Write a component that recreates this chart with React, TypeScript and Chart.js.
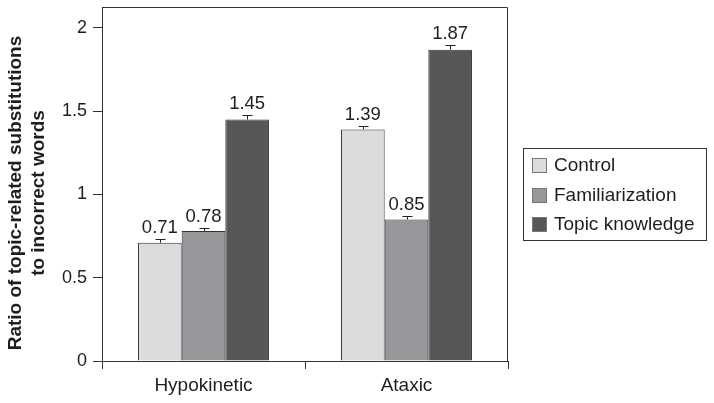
import React, { useEffect, useRef } from "react";
import { Chart, registerables } from "chart.js";

Chart.register(...registerables);

const categories = ["Hypokinetic", "Ataxic"];
const seriesNames = ["Control", "Familiarization", "Topic knowledge"];
const controlValues = [0.71, 1.39];
const familiarizationValues = [0.78, 0.85];
const topicValues = [1.45, 1.87];
const controlErrors = [0.022, 0.021];
const familiarizationErrors = [0.02, 0.018];
const topicErrors = [0.026, 0.026];
const yTicks = [0, 0.5, 1, 1.5, 2];
const yTitleLines = ["Ratio of topic-related substitutions", "to incorrect words"];
const valueLabels = [
  ["0.71", "1.39"],
  ["0.78", "0.85"],
  ["1.45", "1.87"],
];

const colors = ["#dadcde", "#96979a", "#575759"];
const FONT = "'Liberation Sans', Arial, Helvetica, sans-serif";
const TEXT = "#1e1e1e";
const LINE = "#333333";

const errorsAll = [controlErrors, familiarizationErrors, topicErrors];

const extrasPlugin = {
  id: "extras",
  afterDatasetsDraw(chart: any) {
    const ctx = chart.ctx;
    const yScale = chart.scales.y;
    ctx.save();
    chart.data.datasets.forEach((ds: any, di: number) => {
      const meta = chart.getDatasetMeta(di);
      meta.data.forEach((el: any, i: number) => {
        const v = ds.data[i];
        const e = errorsAll[di][i];
        const x = Math.round(el.x) + 0.5;
        const top = Math.round(yScale.getPixelForValue(v + e)) + 0.5;
        ctx.strokeStyle = "#222";
        ctx.lineWidth = 1;
        ctx.beginPath();
        ctx.moveTo(x, el.y);
        ctx.lineTo(x, top);
        ctx.moveTo(x - 5, top);
        ctx.lineTo(x + 5, top);
        ctx.stroke();
        ctx.fillStyle = TEXT;
        ctx.font = `18.5px ${FONT}`;
        ctx.textAlign = "center";
        ctx.textBaseline = "alphabetic";
        ctx.fillText(valueLabels[di][i], el.x, top - 7);
      });
    });
    ctx.restore();
  },
  afterDraw(chart: any) {
    const ctx = chart.ctx;
    const a = chart.chartArea;
    ctx.save();
    ctx.strokeStyle = LINE;
    ctx.lineWidth = 1;
    ctx.beginPath();
    ctx.moveTo(Math.round(a.left) + 0.5, Math.round(a.top) + 0.5);
    ctx.lineTo(Math.round(a.right) - 0.5, Math.round(a.top) + 0.5);
    ctx.lineTo(Math.round(a.right) - 0.5, Math.round(a.bottom));
    ctx.stroke();

    // y axis title
    ctx.save();
    ctx.translate(0, 193);
    ctx.rotate(-Math.PI / 2);
    ctx.fillStyle = TEXT;
    ctx.font = `bold 19px ${FONT}`;
    ctx.textAlign = "center";
    ctx.textBaseline = "middle";
    ctx.fillText(yTitleLines[0], 0, 16);
    ctx.fillText(yTitleLines[1], 0, 39);
    ctx.restore();

    // legend
    const lx = 523.5, ly = 148.5, lw = 183, lh = 92;
    ctx.strokeStyle = LINE;
    ctx.strokeRect(lx, ly, lw, lh);
    ctx.font = `19px ${FONT}`;
    ctx.textAlign = "left";
    ctx.textBaseline = "middle";
    seriesNames.forEach((name, i) => {
      const cy = 165 + i * 29.5;
      ctx.fillStyle = colors[i];
      ctx.fillRect(532, Math.round(cy - 7), 15, 15);
      ctx.strokeStyle = "#777";
      ctx.strokeRect(532.5, Math.round(cy - 7) + 0.5, 14, 14);
      ctx.fillStyle = TEXT;
      ctx.fillText(name, 554, cy + 1);
    });
    ctx.restore();
  },
};

export default function App() {
  const ref = useRef<HTMLCanvasElement>(null);
  useEffect(() => {
    document.body.style.margin = "0";
    const chart = new Chart(ref.current as HTMLCanvasElement, {
      type: "bar",
      data: {
        labels: categories,
        datasets: [
          { label: seriesNames[0], data: controlValues, backgroundColor: colors[0] },
          { label: seriesNames[1], data: familiarizationValues, backgroundColor: colors[1] },
          { label: seriesNames[2], data: topicValues, backgroundColor: colors[2] },
        ].map((d) => ({
          ...d,
          borderColor: LINE,
          borderWidth: 1,
          categoryPercentage: 0.645,
          barPercentage: 1,
        })),
      },
      options: {
        responsive: false,
        animation: false,
        layout: { padding: { top: 7, right: 206, left: 0, bottom: 0 } },
        plugins: { legend: { display: false }, tooltip: { enabled: false } },
        scales: {
          x: {
            offset: true,
            grid: { offset: true, drawOnChartArea: false, drawTicks: true, tickLength: 8, color: LINE },
            border: { display: true, color: LINE },
            ticks: { color: TEXT, font: { family: FONT, size: 19 }, padding: 5 },
            afterFit: (s: any) => {
              s.height = 42;
              s.paddingLeft = 0;
              s.paddingRight = 0;
            },
          },
          y: {
            min: 0,
            max: 2.126,
            afterBuildTicks: (s: any) => { s.ticks = yTicks.map((v) => ({ value: v })); },
            grid: { drawOnChartArea: false, drawTicks: true, tickLength: 9, color: LINE },
            border: { display: true, color: LINE },
            ticks: {
              color: TEXT,
              font: { family: FONT, size: 18 },
              padding: 6,
              callback: (v: any) => String(v),
            },
            afterFit: (s: any) => {
              s.width = 102;
              s.paddingTop = 0;
              s.paddingBottom = 0;
            },
          },
        },
      },
      plugins: [extrasPlugin],
    } as any);
    return () => chart.destroy();
  }, []);
  return <canvas ref={ref} width={714} height={403} style={{ display: "block" }} />;
}
